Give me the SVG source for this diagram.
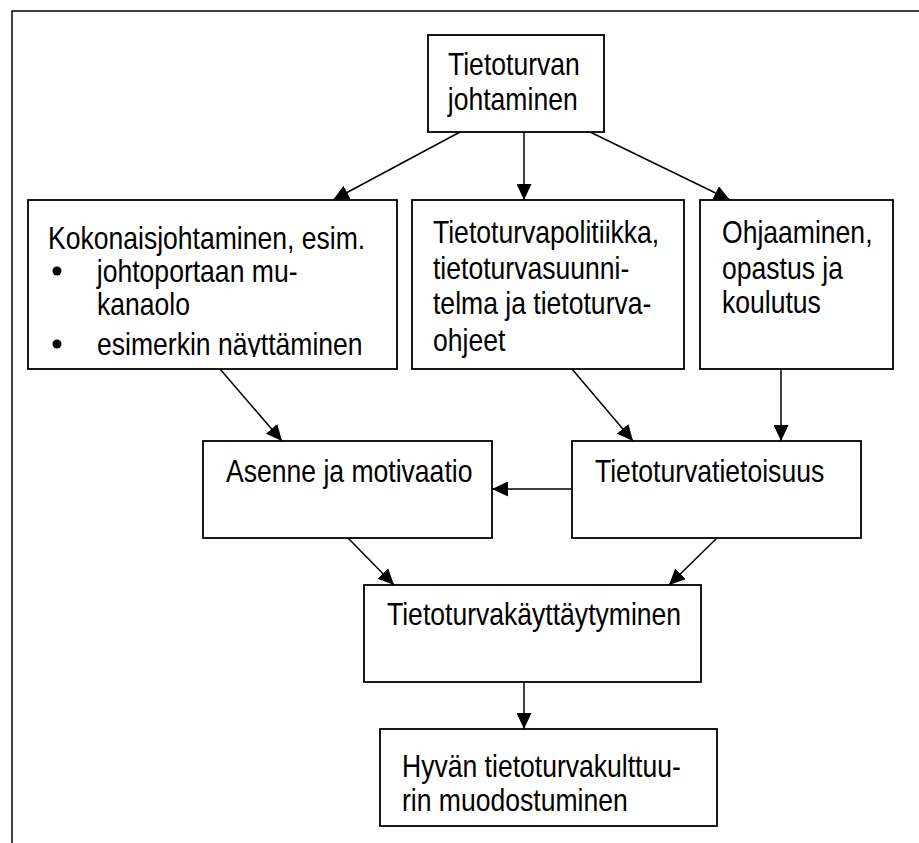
<svg xmlns="http://www.w3.org/2000/svg" width="919" height="843" viewBox="0 0 919 843">
<style>
.box{fill:#fff;stroke:#000;stroke-width:1.8}
.t{font-family:'Liberation Sans',Arial,sans-serif;font-size:32px;fill:#000;transform:scaleX(0.83);transform-box:fill-box;transform-origin:0 0}
.c{fill:none;stroke:#000;stroke-width:1.5}
</style>
<defs>
<marker id="ah" markerUnits="userSpaceOnUse" markerWidth="16" markerHeight="15" refX="16" refY="7.5" orient="auto">
<path d="M0,0 L16,7.5 L0,15 z" fill="#000"/>
</marker>
<clipPath id="clip1"><rect x="28" y="200" width="369" height="157"/></clipPath>
</defs>
<path d="M12,843 V11 H919" fill="none" stroke="#000" stroke-width="1.5"/>
<g id="connectors">
<line class="c" x1="460" y1="132" x2="333" y2="200" marker-end="url(#ah)"/>
<line class="c" x1="524" y1="132" x2="524" y2="200" marker-end="url(#ah)"/>
<line class="c" x1="590" y1="132" x2="730" y2="200" marker-end="url(#ah)"/>
<line class="c" x1="220" y1="369" x2="282" y2="441" marker-end="url(#ah)"/>
<line class="c" x1="572" y1="369" x2="633" y2="441" marker-end="url(#ah)"/>
<line class="c" x1="781" y1="369" x2="781" y2="441" marker-end="url(#ah)"/>
<line class="c" x1="572" y1="489" x2="492" y2="489" marker-end="url(#ah)"/>
<line class="c" x1="348" y1="538" x2="394" y2="585" marker-end="url(#ah)"/>
<line class="c" x1="717" y1="538" x2="669" y2="585" marker-end="url(#ah)"/>
<line class="c" x1="524" y1="682" x2="524" y2="729" marker-end="url(#ah)"/>
</g>
<g id="n-top">
<rect class="box" x="428" y="35" width="176" height="97"/>
<text class="t" x="448" y="75">Tietoturvan</text>
<text class="t" x="448" y="110">johtaminen</text>
</g>
<g id="n-koko">
<rect class="box" x="28" y="200" width="369" height="169"/>
<g clip-path="url(#clip1)">
<text class="t" x="48" y="249">Kokonaisjohtaminen, esim.</text>
<circle cx="57" cy="271" r="4.5" fill="#000"/>
<text class="t" x="97" y="282">johtoportaan mu-</text>
<text class="t" x="97" y="315">kanaolo</text>
<circle cx="57" cy="344" r="4.5" fill="#000"/>
<text class="t" x="97" y="355">esimerkin näyttäminen</text>
</g>
</g>
<g id="n-politiikka">
<rect class="box" x="412" y="200" width="272" height="169"/>
<text class="t" x="433" y="243">Tietoturvapolitiikka,</text>
<text class="t" x="433" y="279">tietoturvasuunni-</text>
<text class="t" x="433" y="314">telma ja tietoturva-</text>
<text class="t" x="433" y="351">ohjeet</text>
</g>
<g id="n-ohjaaminen">
<rect class="box" x="700" y="200" width="193" height="169"/>
<text class="t" x="722" y="243">Ohjaaminen,</text>
<text class="t" x="722" y="279">opastus ja</text>
<text class="t" x="722" y="313">koulutus</text>
</g>
<g id="n-asenne">
<rect class="box" x="203" y="441" width="289" height="97"/>
<text class="t" x="226" y="482">Asenne ja motivaatio</text>
</g>
<g id="n-tietoisuus">
<rect class="box" x="572" y="441" width="289" height="97"/>
<text class="t" x="595" y="482">Tietoturvatietoisuus</text>
</g>
<g id="n-kayttaytyminen">
<rect class="box" x="364" y="585" width="337" height="97"/>
<text class="t" x="387" y="625">Tietoturvakäyttäytyminen</text>
</g>
<g id="n-kulttuuri">
<rect class="box" x="380" y="729" width="337" height="97"/>
<text class="t" x="402" y="777">Hyvän tietoturvakulttuu-</text>
<text class="t" x="402" y="811">rin muodostuminen</text>
</g>
</svg>
